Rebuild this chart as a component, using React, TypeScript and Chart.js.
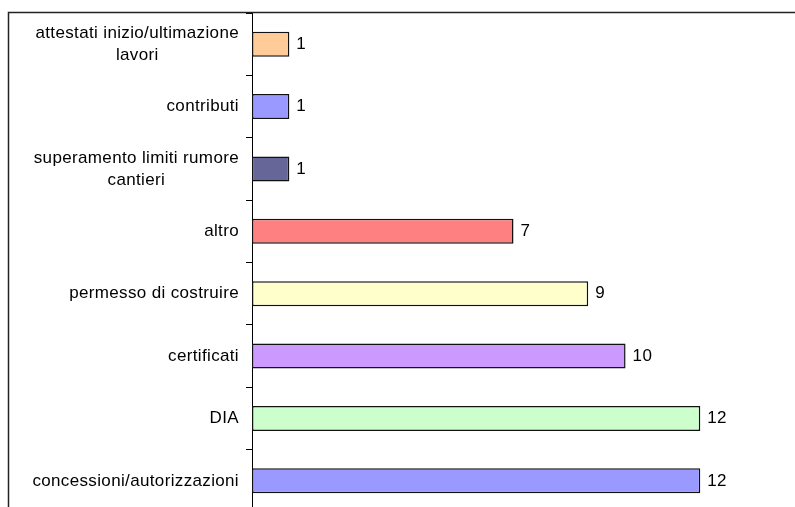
import React, { useEffect, useRef } from "react";
import { Chart, registerables } from "chart.js";

Chart.register(...registerables);

// Category names (multi-line where the label wraps), counts and bar fills
const categories: string[][] = [
  ["attestati inizio/ultimazione", "lavori"],
  ["contributi"],
  ["superamento limiti rumore", "cantieri"],
  ["altro"],
  ["permesso di costruire"],
  ["certificati"],
  ["DIA"],
  ["concessioni/autorizzazioni"],
];
const counts: number[] = [1, 1, 1, 7, 9, 10, 12, 12];
const barColors: string[] = [
  "#FFCC99",
  "#9999FF",
  "#666699",
  "#FF8080",
  "#FFFFCC",
  "#CC99FF",
  "#CCFFCC",
  "#9999FF",
];
const xMax = 14;

const FONT = '17px "Liberation Sans", Arial, sans-serif';

// Draws the category labels (block right-aligned, lines centred on each other),
// the value labels at the end of each bar, and the outer frame.
const labelPlugin = {
  id: "barLabels",
  afterDraw(chart: any) {
    const ctx: any = chart.ctx;
    const xs = chart.scales.x;
    const ys = chart.scales.y;
    const area = chart.chartArea;
    ctx.save();
    ctx.font = FONT;
    ctx.letterSpacing = "0.35px";
    ctx.fillStyle = "#000";
    ctx.textBaseline = "middle";
    const lineH = 22;
    categories.forEach((lines, i) => {
      const cy = ys.getPixelForValue(i);
      const maxW = Math.max(...lines.map((l) => ctx.measureText(l).width));
      const cx = area.left - 13 - maxW / 2;
      ctx.textAlign = "center";
      lines.forEach((l, k) => {
        ctx.fillText(l, cx, cy + (k - (lines.length - 1) / 2) * lineH);
      });
      ctx.textAlign = "left";
      ctx.fillText(String(counts[i]), xs.getPixelForValue(counts[i]) + 7, cy);
    });
    // outer frame (left and top edges)
    ctx.letterSpacing = "0px";
    ctx.strokeStyle = "#222";
    ctx.lineWidth = 1.5;
    ctx.beginPath();
    ctx.moveTo(8.5, chart.height);
    ctx.lineTo(8.5, area.top - 0.5);
    ctx.lineTo(chart.width, area.top - 0.5);
    ctx.stroke();
    ctx.restore();
  },
};

export default function App() {
  const ref = useRef<HTMLCanvasElement | null>(null);

  useEffect(() => {
    document.body.style.margin = "0";
    const canvas = ref.current;
    if (!canvas) return;
    const chart = new Chart(canvas, {
      type: "bar",
      data: {
        labels: categories,
        datasets: [
          {
            data: counts,
            backgroundColor: barColors,
            borderColor: "#111",
            borderWidth: 1.5,
            borderSkipped: false,
            barPercentage: 0.4,
            categoryPercentage: 1,
          },
        ],
      },
      options: {
        indexAxis: "y",
        animation: false,
        responsive: false,
        maintainAspectRatio: false,
        devicePixelRatio: 1,
        layout: { padding: { left: 0, right: 20, top: 13, bottom: 0 } },
        plugins: {
          legend: { display: false },
          tooltip: { enabled: false },
          title: { display: false },
        },
        scales: {
          x: {
            display: false,
            min: 0,
            max: xMax,
          },
          y: {
            display: true,
            offset: true,
            ticks: { display: false },
            grid: {
              display: true,
              offset: true,
              drawOnChartArea: false,
              drawTicks: true,
              tickLength: 6,
              color: "#000",
              lineWidth: 1,
            },
            border: { display: true, color: "#000", width: 1 },
            afterFit(scale: any) {
              scale.width = 252;
            },
          },
        },
      },
      plugins: [labelPlugin],
    });
    return () => chart.destroy();
  }, []);

  return (
    <div style={{ width: 795, height: 507, overflow: "hidden", background: "#fff" }}>
      <canvas ref={ref} width={795} height={512} style={{ display: "block" }} />
    </div>
  );
}
